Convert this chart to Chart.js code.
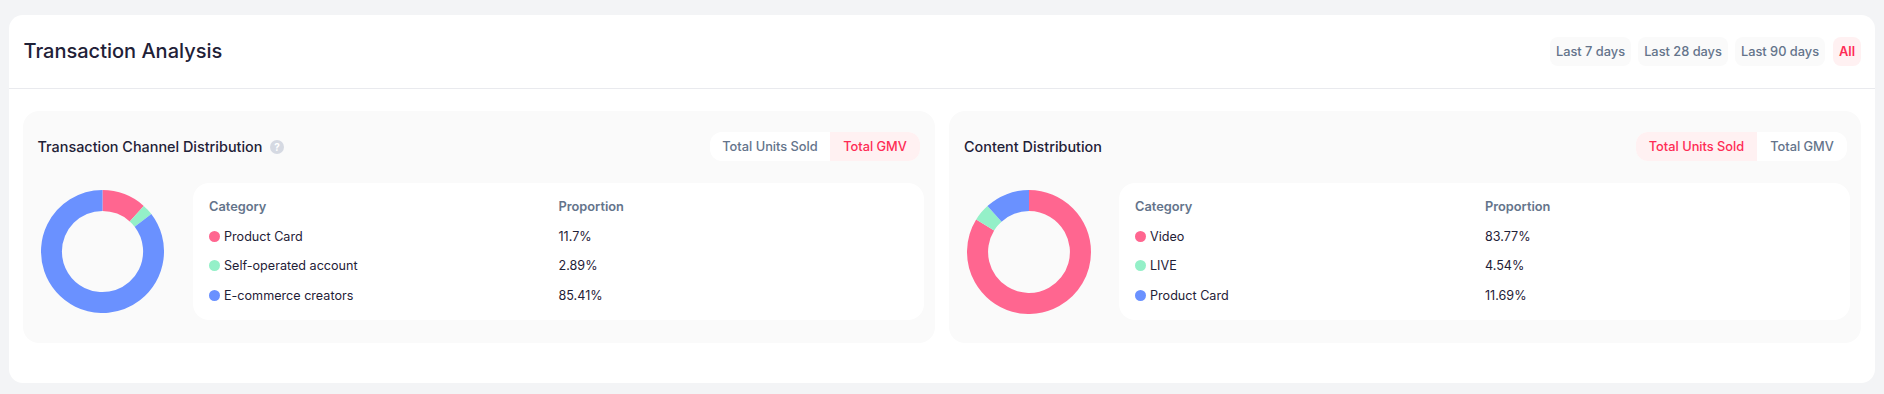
<!DOCTYPE html>
<html>
<head>
<meta charset="utf-8">
<title>Transaction Analysis</title>
<script src="https://cdn.jsdelivr.net/npm/chart.js@4"></script>
<style>
    html, body { margin: 0; padding: 0; width: 1884px; height: 394px; overflow: hidden; background: #f3f4f6; font-family: Inter, sans-serif; color: #1f2137; }
    div, span, canvas { position: absolute; box-sizing: border-box; }
    .card { left: 9px; top: 15px; width: 1866px; height: 368px; background: #fff; border-radius: 14px; }
    .divider { left: 9px; top: 88px; width: 1866px; height: 1px; background: #e9eaee; }
    .title { left: 23.5px; top: 38px; font-size: 20px; line-height: 26px; font-weight: 500; white-space: nowrap; }
    .range { top: 37px; height: 29px; line-height: 29px; text-align: center; border-radius: 8px; background: #fafafa; color: #64748b; font-size: 12.8px; font-weight: 500; white-space: nowrap; }
    .range.on { background: #fff1f2; color: #fe2c55; font-weight: 600; }
    .panel { top: 111px; height: 232px; background: #fafafa; border-radius: 16px; }
    .panel-title { left: 15px; top: 26px; font-size: 14.4px; line-height: 20px; font-weight: 450; white-space: nowrap; }
    .help { left: 247.5px; top: 28.5px; width: 14px; height: 14px; border-radius: 50%; background: #d5d9e2; color: #fff; font-size: 10px; line-height: 14px; font-weight: 700; text-align: center; }
    .toggle { top: 21px; height: 29px; background: #fff; border-radius: 12px; overflow: hidden; }
    .seg { top: 0; height: 29px; line-height: 29px; text-align: center; color: #64748b; font-size: 12.8px; font-weight: 500; white-space: nowrap; }
    .seg.on { background: #fff1f2; color: #fe2c55; }
    .inner { top: 72px; height: 137px; background: #fff; border-radius: 16px; }
    .donut { top: 79px; }
    .cell { font-size: 12.6px; line-height: 18px; white-space: nowrap; }
    .head { color: #64748b; font-weight: 600; font-size: 12.8px; }
    .dot { width: 11px; height: 11px; border-radius: 50%; }
</style>
</head>
<body>
<div class="card"></div>
<div class="title">Transaction Analysis</div>
<div class="divider"></div>
<div id="ranges"></div>
<div id="panels"></div>

<script>
const rangeLabels = ["Last 7 days", "Last 28 days", "Last 90 days", "All"];
const sliceColors = ["#ff6690", "#94f0c8", "#6a91ff"];

const channelCategories = ["Product Card", "Self-operated account", "E-commerce creators"];
const channelValues = [11.7, 2.89, 85.41];

const contentCategories = ["Video", "LIVE", "Product Card"];
const contentValues = [83.77, 4.54, 11.69];

const toggleLabels = ["Total Units Sold", "Total GMV"];

const rangeBoxes = [[1550, 81], [1638, 90], [1735, 90], [1833, 28]];
const rowTops = [87, 117, 146, 176];

function addEl(parent, cls, text, css) {
    const el = document.createElement('div');
    el.className = cls;
    if (text) el.textContent = text;
    Object.assign(el.style, css || {});
    parent.appendChild(el);
    return el;
}

rangeLabels.forEach((label, i) => {
    addEl(document.getElementById('ranges'), i === 3 ? 'range on' : 'range', label, {
        left: rangeBoxes[i][0] + 'px',
        width: rangeBoxes[i][1] + 'px'
    });
});

function buildPanel(opts) {
    const panel = addEl(document.getElementById('panels'), 'panel', '', { left: opts.left + 'px', width: opts.width + 'px' });
    addEl(panel, 'panel-title', opts.title);
    if (opts.help) addEl(panel, 'help', '?');

    const toggle = addEl(panel, 'toggle', '', { left: opts.toggleLeft + 'px', width: (opts.seg[0] + opts.seg[1]) + 'px' });
    addEl(toggle, opts.active === 0 ? 'seg on' : 'seg', toggleLabels[0], { left: '0', width: opts.seg[0] + 'px' });
    addEl(toggle, opts.active === 1 ? 'seg on' : 'seg', toggleLabels[1], { left: opts.seg[0] + 'px', width: opts.seg[1] + 'px' });

    const canvas = document.createElement('canvas');
    canvas.className = 'donut';
    canvas.width = opts.donutSize;
    canvas.height = opts.donutSize;
    canvas.style.left = opts.donutLeft + 'px';
    canvas.style.width = opts.donutSize + 'px';
    canvas.style.height = opts.donutSize + 'px';
    panel.appendChild(canvas);

    addEl(panel, 'inner', '', { left: opts.innerLeft + 'px', width: opts.innerWidth + 'px' });
    addEl(panel, 'cell head', 'Category', { left: opts.textLeft + 'px', top: rowTops[0] + 'px' });
    addEl(panel, 'cell head', 'Proportion', { left: '536px', top: rowTops[0] + 'px' });

    opts.categories.forEach((name, i) => {
        const top = rowTops[i + 1];
        addEl(panel, 'dot', '', { left: opts.textLeft + 'px', top: (top + 3) + 'px', background: sliceColors[i] });
        addEl(panel, 'cell', name, { left: (opts.textLeft + 15) + 'px', top: top + 'px' });
        addEl(panel, 'cell', opts.values[i] + '%', { left: '536px', top: top + 'px' });
    });

    new Chart(canvas.getContext('2d'), {
        type: 'doughnut',
        data: {
            labels: opts.categories,
            datasets: [{
                data: opts.values,
                backgroundColor: sliceColors,
                borderWidth: 0
            }]
        },
        options: {
            responsive: false,
            animation: false,
            cutout: '66%',
            plugins: {
                legend: { display: false },
                tooltip: { enabled: false }
            }
        }
    });
}

buildPanel({
    left: 22.5,
    width: 912.5,
    title: "Transaction Channel Distribution",
    help: true,
    toggleLeft: 687.5,
    seg: [120, 90],
    donutLeft: 18.5,
    donutSize: 123,
    innerLeft: 170,
    innerWidth: 731.5,
    textLeft: 186.5,
    active: 1,
    categories: channelCategories,
    values: channelValues
});

buildPanel({
    left: 949,
    width: 912,
    title: "Content Distribution",
    help: false,
    toggleLeft: 687,
    seg: [121, 90],
    donutLeft: 18,
    donutSize: 124,
    innerLeft: 170,
    innerWidth: 731,
    textLeft: 186,
    active: 0,
    categories: contentCategories,
    values: contentValues
});
</script>
</body>
</html>
